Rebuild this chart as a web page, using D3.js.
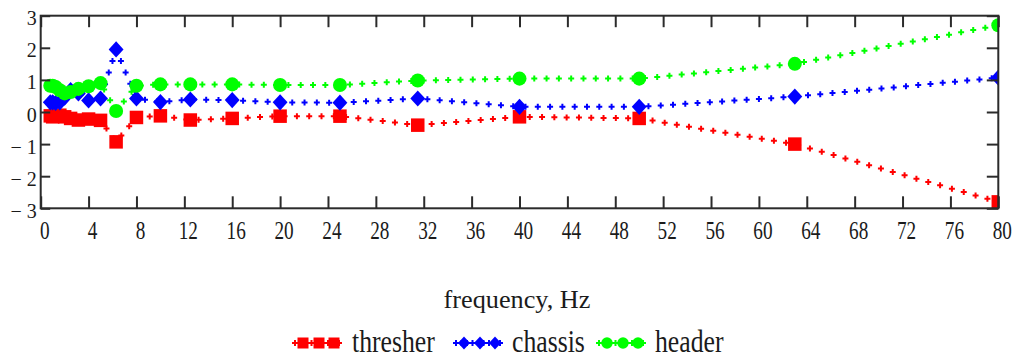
<!DOCTYPE html>
<html>
<head>
<meta charset="utf-8">
<script src="https://cdn.jsdelivr.net/npm/d3@7"></script>
<style>
  body { margin: 0; background: #fff; }
  text { font-family: "Liberation Serif", "Times New Roman", serif; fill: #1b1b1b; }
</style>
</head>
<body>
<svg id="chart" width="1014" height="360"></svg>
<script>
'use strict';

// data (1/3 octave centre frequencies)
const freq     = [0.8, 1, 1.25, 1.6, 2, 2.5, 3.15, 4, 5, 6.3, 8, 10, 12.5, 16, 20, 25, 31.5, 40, 50, 63, 80];
const thresher = [-0.12, -0.15, -0.12, -0.1, -0.15, -0.2, -0.25, -0.22, -0.26, -0.93, -0.17, -0.12, -0.25, -0.2, -0.13, -0.13, -0.41, -0.15, -0.2, -1.0, -2.8];
const chassis  = [0.3, 0.3, 0.28, 0.3, 0.45, 0.68, 0.58, 0.36, 0.42, 1.95, 0.42, 0.31, 0.39, 0.37, 0.3, 0.29, 0.42, 0.16, 0.16, 0.48, 1.07];
const header   = [0.82, 0.82, 0.78, 0.68, 0.58, 0.62, 0.72, 0.8, 0.9, 0.03, 0.82, 0.86, 0.86, 0.86, 0.84, 0.84, 0.98, 1.04, 1.04, 1.5, 2.7];

const xTicks = [0, 4, 8, 12, 16, 20, 24, 28, 32, 36, 40, 44, 48, 52, 56, 60, 64, 68, 72, 76, 80];
const yTicks = [-3, -2, -1, 0, 1, 2, 3];
const xTitle = 'frequency, Hz';

// plot box
const
    pLeft = 40.7,
    pRight = 998.3,
    pTop = 15.7,
    pBottom = 208.3;

const svg = d3.select('#chart');

const x = d3.scaleLinear().domain([0, 80]).range([pLeft, pRight]);
const y = d3.scaleLinear().domain([-3, 3]).range([pBottom, pTop]);

const series = [
    { name: 'thresher', values: thresher, color: '#ff0000', marker: 'square' },
    { name: 'chassis',  values: chassis,  color: '#0000ff', marker: 'diamond' },
    { name: 'header',   values: header,   color: '#00ff00', marker: 'circle' }
];

// marker drawing
const add_marker = function(g, type, cx, cy, s, color){
    let m;
    if (type === 'square') {
        m = g.append('rect')
            .attr('x', cx - s / 2).attr('y', cy - s / 2)
            .attr('width', s).attr('height', s);
    } else if (type === 'diamond') {
        const w = s * 0.55, h = s * 0.6;
        m = g.append('path')
            .attr('d', `M${cx},${cy - h}L${cx + w},${cy}L${cx},${cy + h}L${cx - w},${cy}Z`);
    } else {
        m = g.append('circle').attr('cx', cx).attr('cy', cy).attr('r', s * 0.52);
    }
    m.attr('fill', color);
}

const cross = 'M-3,0H3M0,-3V3';

// crosses spaced along a polyline, like Mathcad's dotted trace
const add_dotted = function(g, pts, color, step){
    const path = g.append('path')
        .attr('d', d3.line()(pts))
        .attr('fill', 'none')
        .attr('stroke', 'none');
    const node = path.node();
    const len = node.getTotalLength();
    for (let l = 0; l <= len; l += step) {
        const p = node.getPointAtLength(l);
        g.append('path')
            .attr('d', cross)
            .attr('transform', `translate(${p.x},${p.y})`)
            .attr('stroke', color)
            .attr('stroke-width', 2)
            .attr('fill', 'none');
    }
    path.remove();
}

// clip
svg.append('clipPath').attr('id', 'plotclip')
    .append('rect')
    .attr('x', pLeft).attr('y', pTop)
    .attr('width', pRight - pLeft).attr('height', pBottom - pTop);

const plot = svg.append('g').attr('clip-path', 'url(#plotclip)');

series.forEach(s => {
    const g = plot.append('g').attr('class', 'series ' + s.name);
    const pts = freq.map((f, i) => [x(f), y(s.values[i])]);
    add_dotted(g, pts, s.color, 12.3);
    pts.forEach(p => add_marker(g, s.marker, p[0], p[1], 13.5, s.color));
});

// axes: inside ticks on all four sides
const axisColor = '#2b2b2b';

const xb = svg.append('g')
    .attr('transform', `translate(0,${pBottom})`)
    .call(d3.axisBottom(x).tickValues(xTicks).tickSize(-12).tickPadding(0).tickFormat(d3.format('d')));
xb.selectAll('text')
    .attr('font-size', 26)
    .attr('y', 30.7)
    .attr('dy', 0)
    .attr('x', 3.5 / 0.74)
    .attr('transform', 'scale(0.74,1)');

const xt = svg.append('g')
    .attr('transform', `translate(0,${pTop})`)
    .call(d3.axisTop(x).tickValues(xTicks).tickSize(-11.5).tickFormat(''));

const yl = svg.append('g')
    .attr('transform', `translate(${pLeft},0)`)
    .call(d3.axisLeft(y).tickValues(yTicks).tickSize(-9.5).tickPadding(0)
        .tickFormat(d => d < 0 ? '\u2212 ' + Math.abs(d) : String(d)));
yl.selectAll('text')
    .attr('font-size', 20)
    .attr('x', -4)
    .attr('dy', 0)
    .attr('y', 9)
    .attr('text-anchor', 'end');

const yr = svg.append('g')
    .attr('transform', `translate(${pRight},0)`)
    .call(d3.axisRight(y).tickValues(yTicks).tickSize(-11.5).tickFormat(''));

[xb, xt, yl, yr].forEach(a => {
    a.select('.domain').remove();
    a.selectAll('line').attr('stroke', axisColor).attr('stroke-width', 2);
    a.attr('font-family', null);
});

// frame
svg.append('rect')
    .attr('x', pLeft).attr('y', pTop)
    .attr('width', pRight - pLeft).attr('height', pBottom - pTop)
    .attr('fill', 'none')
    .attr('stroke', axisColor)
    .attr('stroke-width', 2);

// x title
svg.append('text')
    .attr('transform', 'translate(517,308.3) scale(1.05,1)')
    .attr('text-anchor', 'middle')
    .attr('font-size', 25)
    .text(xTitle);

// legend
const legendStart = [295, 456, 599];
const legendText = [352, 512, 655];
const legendY = 343;

series.forEach((s, i) => {
    const g = svg.append('g').attr('class', 'legend');
    const x0 = legendStart[i];
    add_dotted(g, [[x0, legendY], [x0 + 45, legendY]], s.color, 5.5);
    [8, 24, 39].forEach(o => add_marker(g, s.marker, x0 + o, legendY, 11, s.color));
    svg.append('text')
        .attr('transform', `translate(${legendText[i]},351.7) scale(0.83,1)`)
        .attr('font-size', 31)
        .text(s.name);
});
</script>
</body>
</html>
